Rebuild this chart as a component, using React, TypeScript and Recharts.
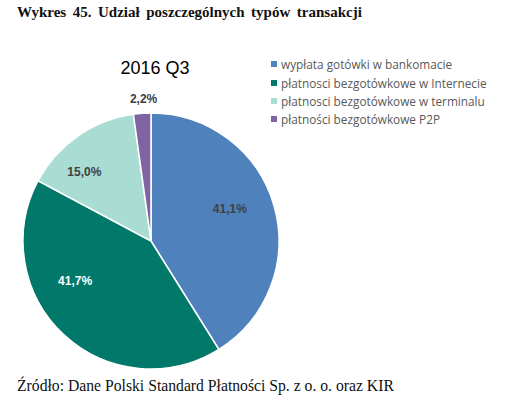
import React from "react";
import { Cell, Legend, Pie, PieChart } from "recharts";

const categories = [
  "wypłata gotówki w bankomacie",
  "płatnosci bezgotówkowe w Internecie",
  "płatnosci bezgotówkowe w terminalu",
  "płatności bezgotówkowe P2P",
];
const shares = [41.1, 41.7, 15.0, 2.2];
const colors = ["#4F81BD", "#00796B", "#A9DCD3", "#8064A2"];
const labelColors = ["#404040", "#ffffff", "#404040", "#404040"];
// Excel "best fit" label spots: angle (deg, counter-clockwise from 3 o'clock) and distance from centre
const labelSpots = [
  { angle: 22, r: 85 },
  { angle: 208, r: 86 },
  { angle: 134, r: 96 },
  { angle: 93, r: 142 },
];

const data = categories.map((name, i) => ({ name, value: shares[i] }));

function formatPct(v: number): string {
  return `${v.toFixed(1).replace(".", ",")}%`;
}

const RADIAN = Math.PI / 180;

function renderLabel(props: any) {
  const { cx, cy, index, value } = props;
  const spot = labelSpots[index];
  const x = cx + spot.r * Math.cos(spot.angle * RADIAN);
  const y = cy - spot.r * Math.sin(spot.angle * RADIAN);
  return (
    <text
      x={x}
      y={y}
      fill={labelColors[index]}
      textAnchor="middle"
      dominantBaseline="central"
      fontFamily="Liberation Sans, Arial, sans-serif"
      fontWeight="bold"
      fontSize={12}
    >
      {formatPct(value)}
    </text>
  );
}

function renderLegend() {
  return (
    <div style={{ fontFamily: "'Open Sans', sans-serif", fontSize: 11.8, color: "#595959" }}>
      {categories.map((c, i) => (
        <div key={c} style={{ height: 18.4, display: "flex", alignItems: "center" }}>
          <span
            style={{
              display: "inline-block",
              width: 6,
              height: 6,
              background: colors[i],
              marginRight: 4,
            }}
          />
          {c}
        </div>
      ))}
    </div>
  );
}

export default function App() {
  return (
    <div
      style={{
        position: "absolute",
        left: 0,
        top: 0,
        width: 505,
        height: 402,
        background: "#fff",
        overflow: "hidden",
      }}
    >
      <div
        style={{
          position: "absolute",
          left: 17,
          top: 4,
          fontFamily: "'Liberation Serif', serif",
          fontSize: 15,
          fontWeight: "bold",
          color: "#111",
          wordSpacing: 2.8,
          whiteSpace: "nowrap",
        }}
      >
        Wykres 45. Udział poszczególnych typów transakcji
      </div>
      <div
        style={{
          position: "absolute",
          left: 100,
          top: 58,
          width: 110,
          textAlign: "center",
          fontFamily: "'Liberation Sans', Arial, sans-serif",
          fontSize: 18,
          color: "#000",
          whiteSpace: "nowrap",
        }}
      >
        2016 Q3
      </div>
      <div style={{ position: "absolute", left: 0, top: 0 }}>
        <PieChart width={505} height={402} margin={{ top: 0, right: 0, bottom: 0, left: 0 }}>
          <Pie
            data={data}
            dataKey="value"
            nameKey="name"
            cx={151}
            cy={241}
            outerRadius={128}
            startAngle={90}
            endAngle={-270}
            stroke="#ffffff"
            strokeWidth={1.5}
            label={renderLabel}
            labelLine={false}
            isAnimationActive={false}
          >
            {data.map((d, i) => (
              <Cell key={d.name} fill={colors[i]} />
            ))}
          </Pie>
          <Legend
            layout="vertical"
            verticalAlign="top"
            align="right"
            content={renderLegend}
            wrapperStyle={{ left: 271, top: 55, width: 234 }}
          />
        </PieChart>
      </div>
      <div
        style={{
          position: "absolute",
          left: 17,
          top: 377,
          fontFamily: "'Liberation Serif', serif",
          fontSize: 15.7,
          color: "#111",
          whiteSpace: "nowrap",
        }}
      >
        Źródło: Dane Polski Standard Płatności Sp. z o. o. oraz KIR
      </div>
    </div>
  );
}
